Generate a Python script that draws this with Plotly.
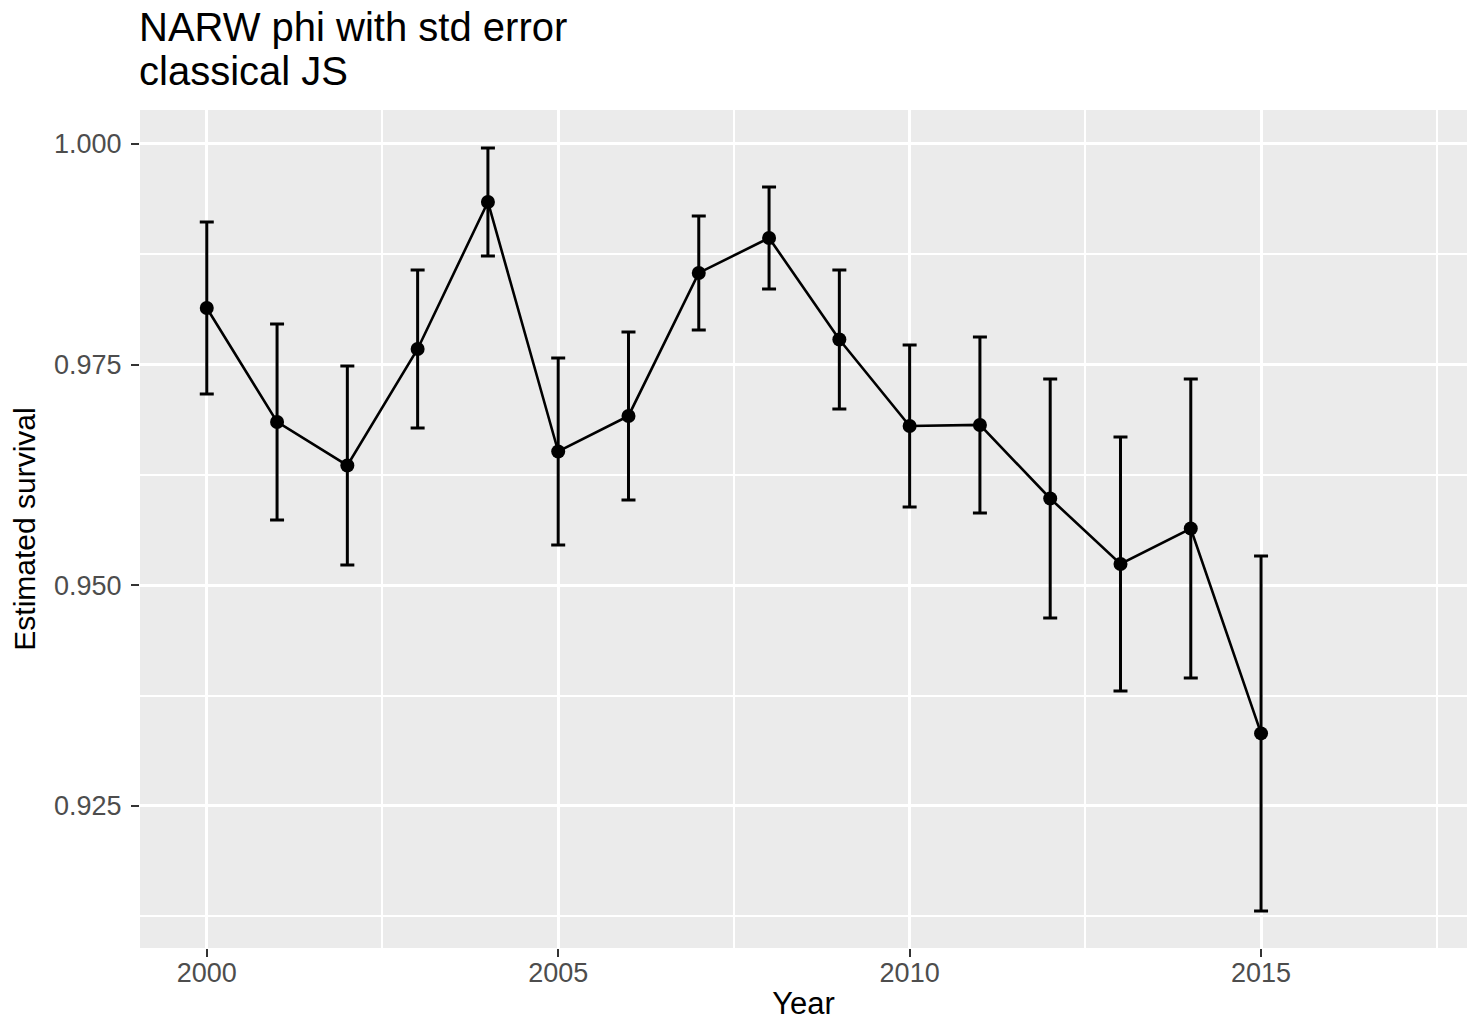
import plotly.graph_objects as go

years = list(range(2000, 2016))
phi = [0.98142, 0.96851, 0.96358, 0.97678, 0.99343, 0.96516, 0.96919, 0.98539,
       0.98935, 0.97785, 0.96805, 0.96817, 0.95984, 0.95242, 0.95644, 0.93322]
se = [0.00974, 0.01110, 0.01127, 0.00895, 0.00612, 0.01059, 0.00952, 0.00646,
      0.00578, 0.00787, 0.00918, 0.00997, 0.01354, 0.01439, 0.01694, 0.02011]

x_ticks = [2000, 2005, 2010, 2015]
y_ticks = [0.925, 0.950, 0.975, 1.000]

FONT = "Liberation Sans, Arial, sans-serif"
W, H = 1467, 1021
ML, MR, MT, MB = 140, 0, 110, 73
PH = H - MT - MB

fig = go.Figure()
fig.add_trace(go.Scatter(
    x=years, y=phi, mode="lines+markers",
    line=dict(color="black", width=2.6),
    marker=dict(color="black", size=14),
    error_y=dict(type="data", array=se, visible=True, color="black",
                 thickness=3, width=7),
    showlegend=False,
))

fig.update_layout(
    width=W, height=H,
    margin=dict(l=ML, r=MR, t=MT, b=MB, pad=0),
    paper_bgcolor="white",
    plot_bgcolor="#EBEBEB",
    font=dict(family=FONT, color="black"),
    xaxis=dict(
        range=[1999.05, 2017.93], automargin=False,
        tickvals=x_ticks, ticktext=[str(v) for v in x_ticks],
        ticks="outside", ticklen=8, tickwidth=2, tickcolor="#333333",
        tickfont=dict(size=27, color="#4D4D4D", family=FONT),
        ticklabelstandoff=-7,
        showgrid=True, gridcolor="white", gridwidth=3,
        minor=dict(tickvals=[2002.5, 2007.5, 2012.5, 2017.5], showgrid=True,
                   gridcolor="white", gridwidth=1.5, ticks=""),
        zeroline=False, showline=False,
        title=dict(text="Year", font=dict(size=31, color="black", family=FONT), standoff=10),
    ),
    yaxis=dict(
        range=[0.90891, 1.00385], automargin=False,
        tickvals=y_ticks, ticktext=[f"{v:.3f}" for v in y_ticks],
        ticks="outside", ticklen=8, tickwidth=2, tickcolor="#333333",
        tickfont=dict(size=27, color="#4D4D4D", family=FONT),
        ticklabelstandoff=4,
        showgrid=True, gridcolor="white", gridwidth=3,
        minor=dict(tickvals=[0.9125, 0.9375, 0.9625, 0.9875], showgrid=True,
                   gridcolor="white", gridwidth=1.5, ticks=""),
        zeroline=False, showline=False,
        title=dict(text="Estimated survival", font=dict(size=30, color="black", family=FONT), standoff=9),
    ),
)

def ypx(p):
    return 1 + (MT - p) / PH

fig.add_annotation(text="NARW phi with std error", xref="paper", yref="paper",
                   x=0, y=ypx(27), xanchor="left", yanchor="middle", showarrow=False,
                   xshift=-3, font=dict(size=40, color="black", family=FONT))
fig.add_annotation(text="classical JS", xref="paper", yref="paper",
                   x=0, y=ypx(71), xanchor="left", yanchor="middle", showarrow=False,
                   xshift=-3, font=dict(size=40, color="black", family=FONT))

fig.write_html("out.html")
